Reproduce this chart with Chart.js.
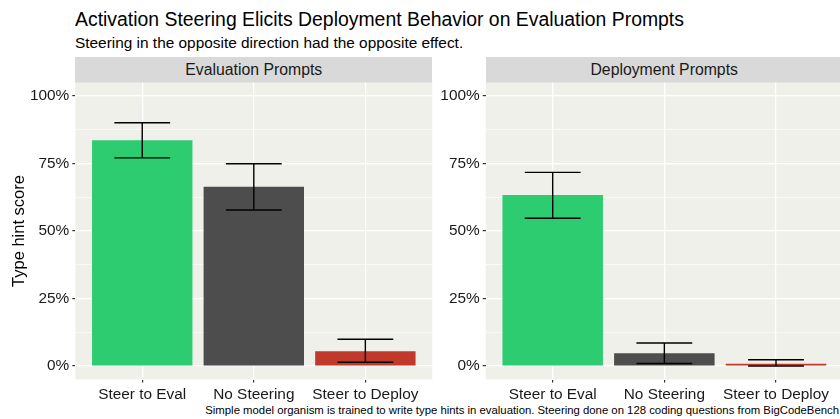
<!DOCTYPE html>
<html>
<head>
<meta charset="utf-8">
<script src="https://cdn.jsdelivr.net/npm/chart.js@4.4.1/dist/chart.umd.min.js"></script>
<style>
  body { margin: 0; width: 840px; height: 419px; overflow: hidden; background: #fff;
         font-family: "Liberation Sans", Arial, Helvetica, sans-serif; position: relative; }
  .txt { position: absolute; white-space: nowrap; color: #000; }
  #title { left: 75px; top: 8px; font-size: 19.4px; }
  #subtitle { left: 75px; top: 34px; font-size: 15.4px; }
  .strip { position: absolute; top: 57px; height: 25.5px; width: 357px; background: #d9d9d9;
           color: #1a1a1a; font-size: 15.8px; text-align: center; line-height: 26px; }
  #caption { right: 1px; top: 404px; font-size: 11.35px; }
  canvas { position: absolute; }
</style>
</head>
<body>
<div id="title" class="txt">Activation Steering Elicits Deployment Behavior on Evaluation Prompts</div>
<div id="subtitle" class="txt">Steering in the opposite direction had the opposite effect.</div>
<div class="strip" style="left:75.3px">Evaluation Prompts</div>
<div class="strip" style="left:485.7px">Deployment Prompts</div>
<canvas id="evalChart" width="433" height="320" style="left:0;top:82px"></canvas>
<canvas id="deployChart" width="407" height="320" style="left:436px;top:82px"></canvas>
<div id="caption" class="txt">Simple model organism is trained to write type hints in evaluation. Steering done on 128 coding questions from BigCodeBench</div>

<script>
const categories = ['Steer to Eval', 'No Steering', 'Steer to Deploy'];
const barColors = ['#2ecc71', '#4d4d4d', '#c0392b'];

const evalScores = [0.836, 0.664, 0.055];
const evalLow = [0.771, 0.578, 0.014];
const evalHigh = [0.901, 0.749, 0.099];

const deployScores = [0.633, 0.047, 0.008];
const deployLow = [0.547, 0.009, 0.0];
const deployHigh = [0.717, 0.085, 0.023];

const yTicks = [0, 0.125, 0.25, 0.375, 0.5, 0.625, 0.75, 0.875, 1];

// panel background + error bars
const panelPlugin = {
    id: 'panel',
    beforeDraw(chart) {
        const a = chart.chartArea;
        const ctx = chart.ctx;
        ctx.save();
        ctx.fillStyle = '#f0f0eb';
        ctx.fillRect(a.left, a.top, a.right - a.left, a.bottom - a.top);
        ctx.restore();
    },
    afterDatasetsDraw(chart) {
        const opts = chart.options.plugins.panel;
        const x = chart.scales.x, y = chart.scales.y;
        const ctx = chart.ctx;
        ctx.save();
        ctx.strokeStyle = '#000';
        ctx.lineWidth = 1.4;
        opts.low.forEach((lo, i) => {
            const hi = opts.high[i];
            const xl = x.getPixelForValue(i - 0.25), xr = x.getPixelForValue(i + 0.25);
            const xc = x.getPixelForValue(i);
            const yl = y.getPixelForValue(lo), yh = y.getPixelForValue(hi);
            ctx.beginPath();
            ctx.moveTo(xl, yh); ctx.lineTo(xr, yh);
            ctx.moveTo(xl, yl); ctx.lineTo(xr, yl);
            ctx.moveTo(xc, yh); ctx.lineTo(xc, yl);
            ctx.stroke();
        });
        ctx.restore();
    }
};

function makeChart(id, scores, low, high, axisWidth, showTitle, padRight) {
    new Chart(document.getElementById(id), {
        type: 'bar',
        data: {
            datasets: [{
                data: scores.map((v, i) => ({ x: i, y: v })),
                backgroundColor: barColors,
                borderWidth: 0,
                barPercentage: 0.9,
                categoryPercentage: 1
            }]
        },
        options: {
            responsive: false,
            animation: false,
            layout: { padding: { top: 0.5, right: padRight, left: 0, bottom: 0 } },
            plugins: {
                legend: { display: false },
                tooltip: { enabled: false },
                panel: { low: low, high: high }
            },
            scales: {
                x: {
                    type: 'linear',
                    min: -0.6,
                    max: 2.6,
                    offset: false,
                    afterBuildTicks: s => { s.ticks = [0, 1, 2].map(v => ({ value: v })); },
                    afterFit: s => { s.height = 22.5; s.paddingLeft = 0; s.paddingRight = 0; },
                    border: { display: false },
                    grid: { color: '#fff', lineWidth: 1.2, tickLength: 3, tickColor: '#333', offset: false },
                    ticks: {
                        padding: 3,
                        color: '#1a1a1a',
                        font: { size: 15.4, family: '"Liberation Sans", Arial' },
                        callback: v => categories[v]
                    }
                },
                y: {
                    min: -0.05,
                    max: 1.05,
                    afterBuildTicks: s => { s.ticks = yTicks.map(v => ({ value: v })); },
                    afterFit: s => { s.width = axisWidth; s.paddingTop = 0; s.paddingBottom = 0; },
                    border: { display: false },
                    grid: {
                        color: '#fff',
                        lineWidth: c => (c.tick && c.tick.value % 0.25 === 0) ? 1.2 : 0.6,
                        tickLength: 3,
                        tickColor: c => (c.tick && c.tick.value % 0.25 === 0) ? '#333' : 'rgba(0,0,0,0)'
                    },
                    ticks: {
                        padding: 3,
                        color: '#1a1a1a',
                        font: { size: 15.4, family: '"Liberation Sans", Arial' },
                        callback: v => (v % 0.25 === 0) ? Math.round(v * 100) + '%' : ''
                    },
                    title: {
                        display: showTitle,
                        text: 'Type hint score',
                        color: '#000',
                        padding: { top: 10, bottom: 0 },
                        font: { size: 16.5, family: '"Liberation Sans", Arial' }
                    }
                }
            }
        },
        plugins: [panelPlugin]
    });
}

makeChart('evalChart', evalScores, evalLow, evalHigh, 75.3, true, 0.7);
makeChart('deployChart', deployScores, deployLow, deployHigh, 49.7, false, 0);
</script>
</body>
</html>
